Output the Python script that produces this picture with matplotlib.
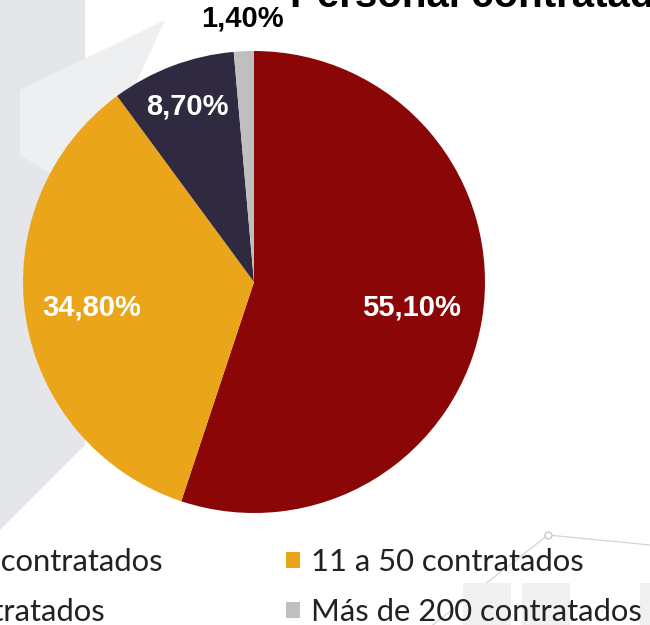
import numpy as np
import matplotlib.pyplot as plt
from matplotlib.patches import Polygon, Rectangle

categories = ['Menos de 10 contratados', '11 a 50 contratados',
              '51 a 200 contratados', 'Más de 200 contratados']
values = [55.1, 34.8, 8.7, 1.4]
labels = ['55,10%', '34,80%', '8,70%', '1,40%']
colors = ['#8b0606', '#eba51a', '#2f2a40', '#bfbfbf']
title = 'Personal contratado'


def main():
    fig = plt.figure(figsize=(6.5, 6.25), dpi=100)
    ax = fig.add_axes([0, 0, 1, 1])

    # faint background decoration
    ax.add_patch(Polygon([[0, 625], [85, 625], [85, 180], [0, 95]],
                         closed=True, color='#e4e6ea', lw=0, zorder=0))
    ax.add_patch(Polygon([[20, 535], [165, 605], [85, 430], [20, 470]],
                         closed=True, color='#eeeff1', lw=0, zorder=0))
    ax.plot([420, 548, 650], [-10, 90, 80], color='#d0d0d0', lw=0.8, zorder=0)
    ax.plot([548], [90], 'o', ms=5, mfc='white', mec='#c8c8c8', zorder=0)
    for x0, w in [(463, 48), (522, 48), (640, 20)]:
        ax.add_patch(Rectangle((x0, 0), w, 42, color='#f0f0f0', lw=0, zorder=0))

    center = (254, 343)
    radius = 231
    wedges, _ = ax.pie(values, colors=colors, startangle=90, counterclock=False,
                       center=center, radius=radius, frame=True,
                       wedgeprops=dict(linewidth=0))
    ax.set_xlim(0, 650)
    ax.set_ylim(0, 625)
    ax.set_aspect('equal')
    ax.axis('off')

    dists = [0.69, 0.71, 0.81, 1.14]
    tcolors = ['white', 'white', 'white', 'black']
    for w, lab, d, c in zip(wedges, labels, dists, tcolors):
        ang = np.deg2rad((w.theta1 + w.theta2) / 2)
        x = center[0] + d * radius * np.cos(ang)
        y = center[1] + d * radius * np.sin(ang)
        ax.text(x, y, lab, ha='center', va='center', color=c,
                fontsize=21, fontweight='bold', family='Liberation Sans')

    ax.text(290, 618, title, ha='left', va='baseline', fontsize=29,
            fontweight='bold', family='Liberation Sans')

    # legend is filled column by column, so reorder to get row-major layout
    order = [0, 2, 1, 3]
    leg = ax.legend([wedges[i] for i in order], [categories[i] for i in order],
                    ncol=2, loc='upper right', bbox_to_anchor=(670 / 650, 0.168),
                    frameon=False, prop={'family': 'Lato', 'size': 22.3},
                    handlelength=0.45, handleheight=0.45, handletextpad=0.35,
                    columnspacing=4.0, labelspacing=0.72, borderpad=0.4)
    for t in leg.get_texts():
        t.set_color('#222222')

    fig.savefig('out.png', dpi=100)


if __name__ == '__main__':
    main()
